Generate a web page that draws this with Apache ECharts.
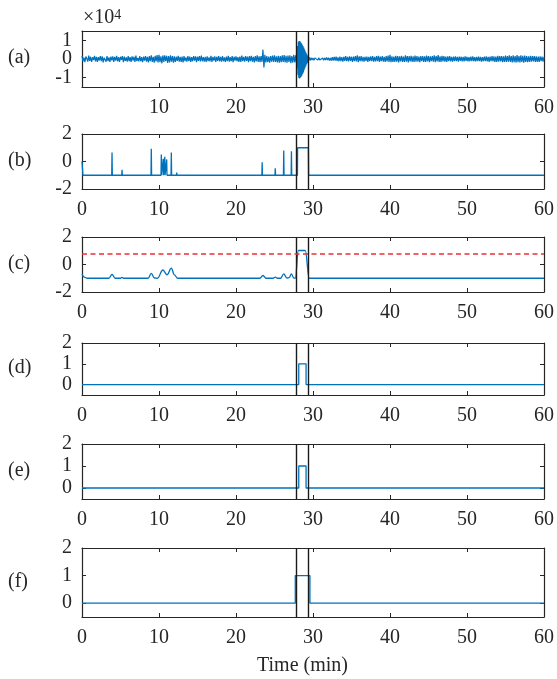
<!DOCTYPE html>
<html>
<head>
<meta charset="utf-8">
<script src="https://cdn.jsdelivr.net/npm/echarts@6/dist/echarts.min.js"></script>
<style>
html,body{margin:0;padding:0;background:#fff;}
#chart{width:557px;height:679px;}
</style>
</head>
<body>
<div id="chart"></div>
<script>
// ---------------- DATA ----------------
const panelLabels = ['(a)', '(b)', '(c)', '(d)', '(e)', '(f)'];
const eventLines = [27.8, 29.4];

// (a) raw signal, units of 1e4, sampled every 0.125 min
const aStep = 0.125;
const noiseBefore = [
  0.15,-0.12,0.08,-0.17,0.13,0.02,-0.14,0.18,-0.1,0.12,-0.16,0.09,-0.05,0.17,-0.13,0.11,
  -0.15,0.1,-0.08,0.16,-0.12,0.14,-0.18,0.07,0.12,-0.14,0.16,-0.11,0.09,-0.15,0.13,-0.07,
  0.14,-0.16,0.11,-0.09,0.17,-0.13,0.1,-0.15,0.12,-0.04,0.15,-0.17,0.13,-0.1,0.08,-0.14,
  0.16,-0.12,0.1,-0.16,0.14,-0.08,0.12,-0.15,0.18,-0.11,0.06,-0.13,0.15,-0.12,0.1,-0.17,
  0.13,-0.09,0.16,-0.14,0.11,-0.18,0.15,-0.12,0.19,-0.16,0.12,-0.2,0.17,-0.13,0.21,-0.18,
  0.22,-0.17,0.14,-0.23,0.19,-0.15,0.2,-0.12,0.17,-0.21,0.15,-0.18,0.2,-0.14,0.16,-0.19,
  0.14,-0.16,0.12,-0.1,0.17,-0.14,0.11,-0.15,0.13,-0.18,0.16,-0.11,0.09,-0.14,0.15,-0.12,
  0.13,-0.15,0.1,-0.12,0.16,-0.09,0.14,-0.17,0.12,-0.1,0.15,-0.13,0.18,-0.12,0.1,-0.14,
  0.12,-0.16,0.14,-0.11,0.08,-0.13,0.17,-0.15,0.11,-0.09,0.14,-0.16,0.12,-0.1,0.15,-0.13,
  0.11,-0.14,0.16,-0.12,0.09,-0.15,0.13,-0.11,0.17,-0.14,0.1,-0.12,0.15,-0.17,0.12,-0.09,
  0.14,-0.12,0.1,-0.16,0.13,-0.15,0.18,-0.11,0.12,-0.14,0.16,-0.1,0.13,-0.17,0.15,-0.12,
  0.17,-0.14,0.12,-0.18,0.15,-0.13,0.19,-0.16,0.14,-0.17,0.16,-0.15,0.5,-0.45,0.22,-0.18,
  0.15,-0.17,0.13,-0.19,0.16,-0.14,0.18,-0.15,0.2,-0.16,0.14,-0.18,0.17,-0.2,0.15,-0.17,
  0.19,-0.16,0.21,-0.18,0.17,-0.2,0.18,-0.15,0.2,-0.22,0.16,-0.19,0.22,-0.18,0.2,-0.25
];
const burstStart = 27.9, burstStep = 0.05;
const burst = [
  0.3,-0.5,0.7,-0.85,0.93,-1.0,0.97,-1.05,0.95,-1.0,0.9,-0.95,0.85,-0.9,0.78,
  -0.8,0.7,-0.72,0.62,-0.6,0.52,-0.5,0.42,-0.4,0.33,-0.3,0.25,-0.22,0.18,-0.15
];
const afterStart = 29.5;
const noiseAfter = [
  0.1,-0.08,0.07,-0.06,0.05,-0.07,0.06,-0.04,0.05,-0.06,0.07,-0.05,0.04,-0.06,0.05,-0.07,
  0.06,-0.05,0.08,-0.06,0.07,-0.08,0.06,-0.09,0.1,-0.08,0.11,-0.09,0.12,-0.1,0.09,-0.12,
  0.13,-0.11,0.1,-0.14,0.12,-0.1,0.15,-0.12,0.11,-0.13,0.14,-0.1,0.12,-0.15,0.13,-0.11,
  0.16,-0.13,0.2,-0.17,0.14,-0.12,0.15,-0.13,0.11,-0.14,0.12,-0.1,0.13,-0.15,0.12,-0.11,
  0.14,-0.12,0.16,-0.14,0.11,-0.13,0.15,-0.12,0.17,-0.15,0.13,-0.11,0.16,-0.14,0.12,-0.16,
  0.15,-0.13,0.18,-0.16,0.22,-0.17,0.14,-0.16,0.13,-0.15,0.17,-0.14,0.16,-0.18,0.14,-0.13,
  0.17,-0.15,0.13,-0.16,0.19,-0.14,0.16,-0.18,0.15,-0.13,0.17,-0.16,0.14,-0.15,0.18,-0.14,
  0.16,-0.14,0.13,-0.17,0.15,-0.12,0.16,-0.15,0.14,-0.16,0.18,-0.13,0.15,-0.17,0.14,-0.12,
  0.16,-0.14,0.2,-0.17,0.15,-0.13,0.21,-0.16,0.14,-0.15,0.17,-0.13,0.15,-0.14,0.13,-0.16,
  0.14,-0.12,0.15,-0.13,0.11,-0.14,0.13,-0.12,0.14,-0.11,0.12,-0.14,0.13,-0.1,0.12,-0.13,
  0.11,-0.13,0.14,-0.1,0.12,-0.13,0.1,-0.12,0.13,-0.11,0.14,-0.12,0.1,-0.13,0.12,-0.11,
  0.13,-0.11,0.12,-0.14,0.1,-0.12,0.13,-0.11,0.14,-0.13,0.12,-0.15,0.13,-0.12,0.15,-0.13,
  0.14,-0.16,0.13,-0.15,0.17,-0.14,0.16,-0.13,0.15,-0.17,0.14,-0.16,0.18,-0.15,0.16,-0.14,
  0.19,-0.16,0.15,-0.18,0.2,-0.17,0.16,-0.19,0.21,-0.17,0.15,-0.18,0.19,-0.16,0.17,-0.2,
  0.18,-0.15,0.16,-0.17,0.14,-0.16,0.17,-0.14,0.15,-0.13,0.16,-0.15,0.14,-0.16,0.13,-0.15,
  0.14,-0.12,0.13,-0.14,0.12
];

// (b) detector output
const bBase = -1;
const bStartValue = 0;
const bSpikeT = [3.9, 5.2, 9.0, 10.3, 10.55, 10.75, 11.0, 11.6, 12.3, 18.6, 23.4, 25.1, 26.2, 27.2];
const bSpikeV = [0.65, -0.6, 0.92, 0.5, 0.2, 0.35, 0.15, 0.65, -0.8, -0.9, -0.05, -0.5, 0.8, 0.75];
const bEvent = [28.0, 29.4];
const bEventLevel = 1;

// (c) smoothed output and threshold
const cTime  = [0, 0.3, 0.7, 3.5, 3.9, 4.3, 5.0, 5.2, 5.4, 8.6, 9.0, 9.4, 9.8, 10.5, 11.05, 11.6, 12.0, 12.4,
                23.1, 23.5, 23.9, 24.8, 25.1, 25.4, 25.8, 26.2, 26.6, 26.9, 27.2, 27.5, 27.7, 28.1, 29.0, 29.5, 60];
const cValue = [-0.7, -0.92, -1, -1, -0.72, -1, -1, -0.94, -1, -1, -0.65, -0.98, -1, -0.4, -0.75, -0.27, -0.75, -1,
                -1, -0.8, -1, -1, -0.92, -1, -1, -0.68, -0.98, -0.96, -0.68, -0.98, -1, 1.02, 1.02, -1, -1];
const cThreshold = 0.8;

// (d), (e), (f) binary decisions
const dStep = [28.15, 29.1];
const eStep = [28.15, 29.1];
const fStep = [27.7, 29.6];
const stepLevel = 1, stepBase = 0;

// ---------------- BUILD ----------------
const blue = '#0072BD';
const ink = '#262626';
const font = 'Liberation Serif';
const fs = 20;

const aData = [];
noiseBefore.forEach((v, i) => aData.push([i * aStep, v]));
burst.forEach((v, i) => aData.push([burstStart + i * burstStep, v]));
noiseAfter.forEach((v, i) => aData.push([afterStart + i * aStep, v]));

const bData = [[0, bStartValue], [0.12, bBase]];
bSpikeT.forEach((t, i) => { bData.push([t - 0.04, bBase], [t, bSpikeV[i]], [t + 0.04, bBase]); });
bData.push([bEvent[0] - 0.02, bBase], [bEvent[0], bEventLevel], [bEvent[1], bEventLevel], [bEvent[1] + 0.03, bBase], [60, bBase]);

const cData = cTime.map((t, i) => [t, cValue[i]]);

function stepData(s) {
  return [[0, stepBase], [s[0], stepBase], [s[0], stepLevel], [s[1], stepLevel], [s[1], stepBase], [60, stepBase]];
}

const layout = [
  {top: 31, h: 56}, {top: 134, h: 55}, {top: 237, h: 55},
  {top: 343, h: 52}, {top: 444, h: 55}, {top: 548, h: 69}
];
const yRanges = [
  {min: -1.5, max: 1.5, ticks: [-1, 0, 1]},
  {min: -2, max: 2, ticks: [-2, 0, 2]},
  {min: -2, max: 2, ticks: [-2, 0, 2]},
  {min: -0.5, max: 2, ticks: [0, 1, 2]},
  {min: -0.5, max: 2, ticks: [0, 1, 2]},
  {min: -0.5, max: 2, ticks: [0, 1, 2]}
];
const seriesData = [aData, bData, cData, stepData(dStep), stepData(eStep), stepData(fStep)];

const left = 82, right = 12;
const grids = [], xAxes = [], yAxes = [], series = [], graphics = [];
const lineAxis = {show: true, onZero: false, lineStyle: {color: ink, width: 1.2}};

layout.forEach((L, i) => {
  grids.push({left: left, right: right, top: L.top, height: L.h, containLabel: false});
  xAxes.push({
    gridIndex: i, type: 'value', min: 0, max: 60, interval: 10, position: 'bottom',
    axisLine: lineAxis,
    axisTick: {show: true, inside: true, length: 4, lineStyle: {color: ink, width: 1}},
    axisLabel: {show: true, margin: 11, color: ink, fontFamily: font, fontSize: fs,
      formatter: v => (i === 0 && v === 0) ? '' : String(v)},
    splitLine: {show: false}
  });
  xAxes.push({
    gridIndex: i, type: 'value', min: 0, max: 60, interval: 10, position: 'top',
    axisLine: lineAxis,
    axisTick: {show: true, inside: true, length: 4, lineStyle: {color: ink, width: 1}},
    axisLabel: {show: false}, splitLine: {show: false}
  });
  const R = yRanges[i];
  yAxes.push({
    gridIndex: i, type: 'value', min: R.min, max: R.max, position: 'left',
    axisLine: lineAxis,
    axisTick: {show: true, inside: true, length: 4, customValues: R.ticks, lineStyle: {color: ink, width: 1}},
    axisLabel: {show: i !== 0, margin: 10, color: ink, fontFamily: font, fontSize: fs, customValues: R.ticks},
    splitLine: {show: false}
  });
  yAxes.push({
    gridIndex: i, type: 'value', min: R.min, max: R.max, position: 'right',
    axisLine: lineAxis,
    axisTick: {show: true, inside: true, length: 4, customValues: R.ticks, lineStyle: {color: ink, width: 1}},
    axisLabel: {show: false}, splitLine: {show: false}
  });

  const mlData = eventLines.map(x => ({xAxis: x, lineStyle: {color: '#1a1a1a', width: 1.4, type: 'solid'}}));
  if (i === 2) {
    mlData.push({yAxis: cThreshold, lineStyle: {color: '#e8303a', width: 1.6, type: [5, 3.5]}});
  }
  series.push({
    type: 'line', xAxisIndex: 2 * i, yAxisIndex: 2 * i,
    data: seriesData[i], showSymbol: false, symbol: 'none',
    smooth: i === 2 ? 0.4 : false, smoothMonotone: 'x',
    lineStyle: {color: blue, width: i === 0 ? 1.2 : 1.3},
    itemStyle: {color: blue},
    sampling: null,
    markLine: {silent: true, symbol: ['none', 'none'], label: {show: false}, data: mlData, animation: false}
  });

  graphics.push({
    type: 'text', left: 8, top: L.top + L.h / 2 - 11,
    style: {text: panelLabels[i], fontSize: fs, fontFamily: font, fill: ink}
  });
});

graphics.push({
  type: 'text', left: 83, top: 8,
  style: {text: '{n|×10}{s|4}', fill: ink,
    rich: {n: {fontSize: fs, fontFamily: font, fill: ink},
           s: {fontSize: 14, fontFamily: font, fill: ink, verticalAlign: 'top'}}}
});
graphics.push({
  type: 'text', left: 257, top: 656,
  style: {text: 'Time (min)', fontSize: fs, fontFamily: font, fill: ink}
});

const chart = echarts.init(document.getElementById('chart'), null, {renderer: 'canvas'});
chart.setOption({
  animation: false,
  backgroundColor: '#fff',
  grid: grids, xAxis: xAxes, yAxis: yAxes, series: series, graphic: graphics
});

// panel (a) y tick labels, placed through the axis scale
const aLabels = yRanges[0].ticks.map(v => {
  const p = chart.convertToPixel({xAxisIndex: 0, yAxisIndex: 0}, [0, v]);
  return {
    type: 'text', x: p[0] - 10, y: p[1],
    style: {text: String(v), fontSize: fs, fontFamily: font, fill: ink, align: 'right', verticalAlign: 'middle'}
  };
});
chart.setOption({graphic: graphics.concat(aLabels)});
</script>
</body>
</html>
